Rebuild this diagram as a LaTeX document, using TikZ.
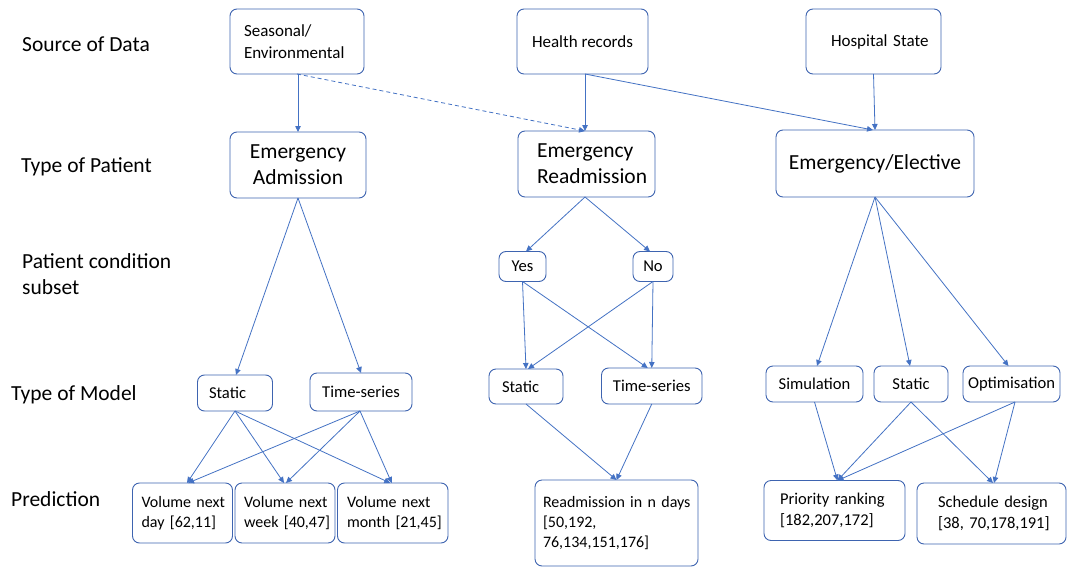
\documentclass[tikz,border=0pt]{standalone}
\usepackage{fontspec}
\setmainfont{Carlito}
\usetikzlibrary{arrows.meta}
\definecolor{linkblue}{RGB}{68,114,196}
\definecolor{edgeblue}{RGB}{62,100,176}

\begin{document}
\begin{tikzpicture}[x=1pt,y=-1pt,
  box/.style={draw=edgeblue, line width=0.9pt, rounded corners=7pt, inner sep=0pt, outer sep=0pt,
              text=black, font=\fontsize{16.6}{20.5}\selectfont},
  srcbox/.style={box, font=\fontsize{17}{22}\selectfont},
  predbox/.style={box, font=\fontsize{16}{20}\selectfont},
  rankbox/.style={box, font=\fontsize{16.5}{21}\selectfont},
  bigbox/.style={box, font=\fontsize{21.5}{26}\selectfont},
  rowlabel/.style={inner sep=0pt, align=left, font=\fontsize{21.5}{26}\selectfont},
  link/.style={draw=linkblue, line width=0.8pt, -{Triangle[length=6pt,width=5.5pt]}},
  dashlink/.style={link, dash pattern=on 4pt off 3pt},
]
\fill[white] (0,0) rectangle (1067,567);
\useasboundingbox (0,0) rectangle (1067,567);

% row labels
\node[rowlabel, anchor=base west] (lsrc)   at (22,52)  {Source of Data};
\node[rowlabel, anchor=base west] (ltype)  at (21,172) {Type of Patient};
\node[rowlabel, anchor=west]      (lcond)  at (22,274) {Patient condition\\subset};
\node[rowlabel, anchor=base west] (lmodel) at (11,400) {Type of Model};
\node[rowlabel, anchor=base west] (lpred)  at (11,506) {Prediction};

% data sources
\node[srcbox, minimum width=134pt, minimum height=65pt, text width=106pt, align=left] (seas) at (297,41.5) {Seasonal/\\Environmental};
\node[srcbox, minimum width=131pt, minimum height=65pt] (health) at (582.5,41.5) {Health records};
\node[srcbox, minimum width=135pt, minimum height=65pt, text width=85pt, align=left] (hosp) at (873.5,41.5) {\mbox{Hospital State}};

% patient types
\node[bigbox, minimum width=136pt, minimum height=66pt, align=center] (emad) at (298,165) {Emergency\\Admission};
\node[bigbox, minimum width=137pt, minimum height=66pt, text width=99pt, align=left] (emre) at (586.5,164) {Emergency\\Readmission};
\node[bigbox, minimum width=198pt, minimum height=67pt] (elec) at (875,163.5) {Emergency/Elective};

% condition subsets
\node[box, minimum width=47pt, minimum height=30pt] (yes) at (522.5,266.5) {Yes};
\node[box, minimum width=40pt, minimum height=30pt] (no) at (653,266.5) {No};

% model types
\node[box, minimum width=75pt, minimum height=36pt, text width=52pt, align=left] (stat1) at (235,393) {Static};
\node[box, minimum width=102pt, minimum height=38pt] (ts1) at (361,392) {Time-series};
\node[box, minimum width=74pt, minimum height=35pt, text width=48pt, align=left] (stat2) at (526,386.5) {Static};
\node[box, minimum width=100.5pt, minimum height=36pt] (ts2) at (651.75,386) {Time-series};
\node[box, minimum width=97pt, minimum height=36pt] (sim) at (814.5,384) {Simulation};
\node[box, minimum width=74pt, minimum height=36pt] (stat3) at (911,384) {Static};
\node[box, minimum width=97pt, minimum height=36pt] (opt) at (1011.5,384) {Optimisation};

% predictions
\node[predbox, minimum width=100pt, minimum height=60pt, text width=82pt, align=left] (vday) at (182.5,513) {\mbox{Volume next}\\day [62,11]};
\node[predbox, minimum width=100pt, minimum height=60pt, text width=82pt, align=left] (vweek) at (285,513) {\mbox{Volume next}\\\mbox{week [40,47]}};
\node[predbox, minimum width=110.5pt, minimum height=60pt, text width=91.5pt, align=left] (vmonth) at (392.75,513) {\mbox{Volume next}\\\mbox{month [21,45]}};
\node[predbox, minimum width=163pt, minimum height=86pt, text width=147pt, align=left] (readm) at (616.5,523) {\mbox{Readmission in n days}\\{[50,192,}\\76,134,151,176]};
\node[rankbox, minimum width=141pt, minimum height=60pt, text width=109pt, align=left] (prio) at (834.5,510.5) {\mbox{Priority ranking}\\{[182,207,172]}};
\node[rankbox, minimum width=149pt, minimum height=61pt, text width=107pt, align=left] (sched) at (991.5,513.5) {\mbox{Schedule design}\\\mbox{[38, 70,178,191]}};

% sources to patient types
\draw[link] ([xshift=1pt]seas.south) -- (emad.north);
\draw[dashlink] (seas.south) -- ([xshift=-1.5pt]emre.north);
\draw[link] ([xshift=2.5pt]health.south) -- ([xshift=-1.5pt]emre.north);
\draw[link] ([xshift=2.5pt]health.south) -- ([xshift=-2pt]elec.north);
\draw[link] (hosp.south) -- (elec.north);

% patient types to subsets / models
\draw[link] (emad.south) -- ([xshift=1pt]stat1.north);
\draw[link] (emad.south) -- (ts1.north);
\draw[link] ([xshift=-1.5pt]emre.south) -- ([xshift=3.5pt]yes.north);
\draw[link] ([xshift=-1.5pt]emre.south) -- ([xshift=-3pt]no.north);
\draw[link] (yes.south) -- (stat2.north);
\draw[link] (yes.south) -- ([xshift=-4pt]ts2.north);
\draw[link] (no.south) -- ([xshift=2pt]stat2.north);
\draw[link] (no.south) -- (ts2.north);
\draw[link] (elec.south) -- ([xshift=2.5pt]sim.north);
\draw[link] (elec.south) -- ([xshift=-1pt]stat3.north);
\draw[link] (elec.south) -- ([xshift=-3pt]opt.north);

% models to predictions
\draw[link] (stat1.south) -- ([xshift=4.5pt]vday.north);
\draw[link] (stat1.south) -- ([xshift=-1pt]vweek.north);
\draw[link] (stat1.south) -- ([xshift=-2.5pt]vmonth.north);
\draw[link] ([xshift=-1pt]ts1.south) -- ([xshift=5.5pt]vday.north);
\draw[link] ([xshift=-1pt]ts1.south) -- ([xshift=1pt]vweek.north);
\draw[link] ([xshift=-1pt]ts1.south) -- ([xshift=-1pt]vmonth.north);
\draw[link] (stat2.south) -- (readm.north);
\draw[link] (ts2.south) -- (readm.north);
\draw[link] (sim.south) -- ([xshift=3pt]prio.north);
\draw[link] (stat3.south) -- ([xshift=3pt]prio.north);
\draw[link] (stat3.south) -- ([xshift=1.5pt]sched.north);
\draw[link] ([xshift=3.5pt]opt.south) -- ([xshift=3pt]prio.north);
\draw[link] ([xshift=3.5pt]opt.south) -- ([xshift=2.5pt]sched.north);
\end{tikzpicture}
\end{document}
